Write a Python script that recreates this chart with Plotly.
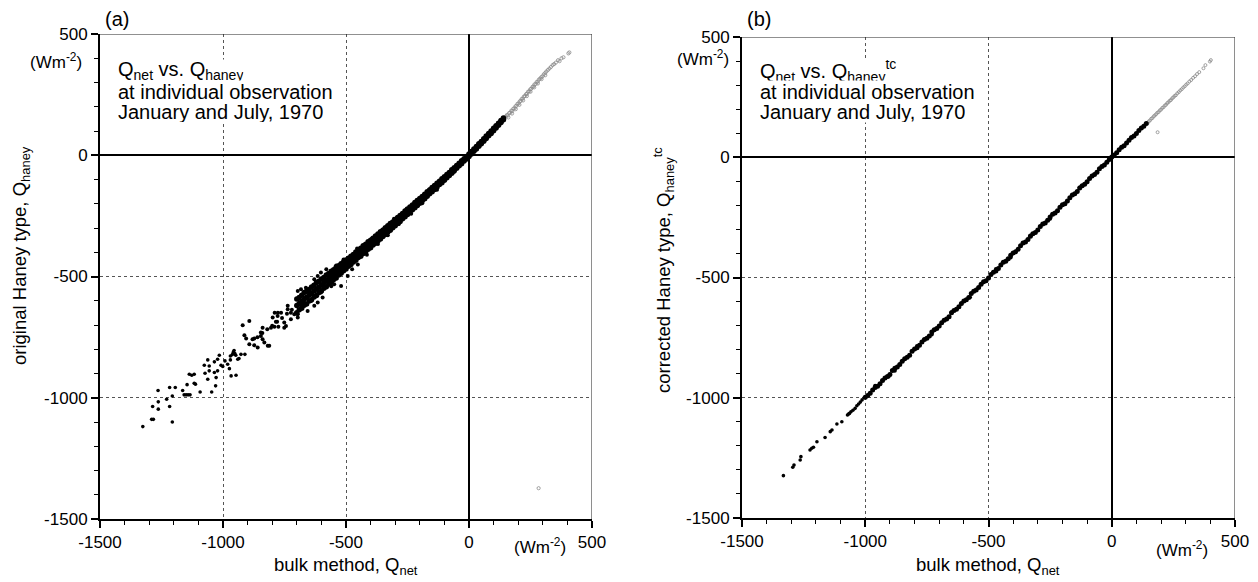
import plotly.graph_objects as go

W, H = 1258, 582
FONT = "Liberation Sans, Arial, Helvetica, sans-serif"

# ---------------- axis ticks (both panels share the scale) ----------------
tick_vals = [-1500, -1000, -500, 0, 500]
tick_text = ["-1500", "-1000", "-500", "0", "500"]

# ---------------- panel (a): Q_net vs. original Haney-type Q_haney ----------------
# dense core of the cloud: Q_net with the upper / central / lower edge of Q_haney
core_qnet_a = [
    -700, -690, -680, -670, -660, -650, -640, -630, -620, -610,
    -600, -590, -580, -570, -560, -550, -540, -530, -520, -510,
    -500, -490, -480, -470, -460, -450, -440, -430, -420, -410,
    -400, -390, -380, -370, -360, -350, -340, -330, -320, -310,
    -300, -290, -280, -270, -260, -250, -240, -230, -220, -210,
    -200, -190, -180, -170, -160, -150, -140, -130, -120, -110,
    -100, -90, -80, -70, -60, -50, -40, -30, -20, -10,
    0, 10, 20, 30, 40, 50, 60, 70, 80, 90,
    100, 110, 120, 130, 140,
]
core_mid_a = [
    -620, -611, -603, -594, -586, -577, -569, -560, -552, -543,
    -535, -526, -518, -509, -501, -492, -484, -475, -467, -458,
    -450, -441, -433, -424, -416, -407, -399, -390, -382, -373,
    -365, -356, -348, -339, -330, -322, -313, -304, -295, -287,
    -278, -269, -260, -251, -242, -233, -224, -215, -206, -197,
    -188, -179, -170, -160, -151, -142, -133, -123, -114, -105,
    -96, -86, -77, -67, -58, -48, -38, -29, -19, -10,
    0, 10, 21, 31, 42, 52, 63, 74, 85, 95,
    106, 117, 128, 139, 150,
]
core_hi_a = [
    -593, -587, -577, -566, -561, -554, -543, -536, -525, -520,
    -510, -504, -494, -488, -478, -472, -462, -456, -447, -440,
    -432, -425, -416, -409, -399, -391, -384, -373, -367, -357,
    -350, -342, -333, -325, -315, -309, -299, -291, -281, -275,
    -265, -257, -248, -240, -230, -222, -213, -205, -195, -187,
    -178, -170, -161, -151, -143, -133, -125, -115, -107, -97,
    -89, -79, -71, -60, -52, -42, -33, -23, -14, -5,
    5, 15, 26, 36, 47, 57, 68, 79, 90, 100,
    111, 122, 132, 143, 154,
]
core_lo_a = [
    -649, -637, -631, -619, -613, -601, -596, -585, -578, -566,
    -560, -548, -542, -530, -524, -512, -506, -494, -487, -476,
    -469, -458, -451, -440, -433, -422, -416, -405, -398, -388,
    -381, -370, -363, -353, -345, -335, -327, -317, -309, -299,
    -291, -281, -273, -262, -254, -244, -236, -225, -217, -207,
    -198, -188, -179, -169, -159, -151, -141, -131, -121, -113,
    -103, -93, -83, -74, -64, -54, -43, -35, -24, -15,
    -5, 5, 16, 26, 37, 47, 58, 69, 80, 90,
    101, 112, 124, 135, 146,
]

# scattered observations (Q_net, Q_haney) away from the core
spread_a = [
    (-860, -750), (-840, -733), (-820, -718), (-800, -703), (-780, -687), (-760, -671),
    (-740, -654), (-720, -637), (-920, -701), (-893, -683), (-913, -742), (-906, -756),
    (-893, -779), (-880, -759), (-873, -784), (-859, -793), (-846, -745), (-839, -759),
    (-832, -772), (-818, -786), (-812, -786), (-873, -756), (-846, -731), (-839, -711),
    (-805, -711), (-791, -707), (-775, -707), (-785, -687), (-778, -663), (-798, -669),
    (-764, -649), (-777, -649), (-790, -649), (-751, -690), (-744, -704), (-751, -711),
    (-737, -635), (-737, -621), (-724, -649), (-724, -676), (-710, -656), (-696, -669),
    (-696, -656), (-683, -621), (-670, -607), (-683, -553), (-663, -546), (-696, -560),
    (-656, -642), (-642, -601), (-629, -621), (-615, -607), (-595, -587), (-602, -566),
    (-629, -511), (-615, -498), (-602, -484), (-548, -532), (-520, -539), (-493, -498),
    (-466, -429), (-452, -450), (-580, -470), (-560, -540), (-540, -455), (-510, -430),
    (-475, -470), (-455, -385), (-430, -372), (-415, -410), (-395, -344), (-370, -366),
    (-350, -306), (-330, -330), (-305, -262), (-285, -283), (-255, -224), (-235, -241),
    (-210, -183), (-190, -198), (-160, -140), (-130, -142), (-90, -82), (-60, -68),
]
tail_a = [
    (-1326, -1119), (-1290, -1089), (-1283, -1089), (-1206, -1100), (-1286, -1036),
    (-1263, -1047), (-1263, -1017), (-1264, -970), (-1229, -1006), (-1217, -1036),
    (-1217, -958), (-1206, -993), (-1194, -958), (-1164, -970), (-1158, -988),
    (-1150, -988), (-1142, -988), (-1134, -988), (-1146, -946), (-1137, -903),
    (-1127, -907), (-1117, -940), (-1117, -903), (-1112, -944), (-1093, -976),
    (-1076, -866), (-1073, -899), (-1062, -844), (-1056, -869), (-1056, -889),
    (-1062, -924), (-1046, -976), (-1035, -852), (-1035, -896), (-1028, -917),
    (-1030, -951), (-1022, -889), (-1015, -825), (-1022, -841), (-1008, -866),
    (-1001, -871), (-992, -848), (-981, -862), (-970, -844), (-970, -828),
    (-967, -910), (-974, -880), (-947, -907), (-958, -812), (-952, -818),
    (-962, -822), (-955, -805), (-948, -825), (-940, -841), (-935, -838),
    (-927, -821), (-911, -821),
]
# positive-flux observations (drawn in grey)
positive_a = [
    (150, 160), (154, 166), (158, 164), (163, 174), (168, 176), (172, 184), (176, 182),
    (180, 192), (185, 194), (189, 202), (193, 204), (197, 212), (202, 214), (206, 222),
    (210, 224), (214, 232), (219, 234), (223, 242), (227, 244), (232, 252), (236, 254),
    (240, 262), (245, 264), (249, 272), (253, 274), (258, 282), (262, 284), (266, 292),
    (271, 294), (275, 302), (280, 304), (284, 312), (289, 316), (294, 322), (299, 326),
    (304, 334), (310, 340), (315, 346), (321, 352), (327, 358), (333, 364), (340, 372),
    (346, 376), (353, 382), (362, 392), (368, 388), (376, 400), (384, 404), (404, 420),
    (408, 424), (160, 156), (175, 172), (190, 190), (205, 208), (220, 226), (235, 244),
    (250, 262), (265, 280), (280, 296), (295, 314), (310, 330), (283, -1373),
]

# ---------------- panel (b): Q_net vs. corrected Haney-type Q_haney^tc ----------------
core_qnet_b = [
    -1000, -990, -980, -970, -960, -950, -940, -930, -920, -910,
    -900, -890, -880, -870, -860, -850, -840, -830, -820, -810,
    -800, -790, -780, -770, -760, -750, -740, -730, -720, -710,
    -700, -690, -680, -670, -660, -650, -640, -630, -620, -610,
    -600, -590, -580, -570, -560, -550, -540, -530, -520, -510,
    -500, -490, -480, -470, -460, -450, -440, -430, -420, -410,
    -400, -390, -380, -370, -360, -350, -340, -330, -320, -310,
    -300, -290, -280, -270, -260, -250, -240, -230, -220, -210,
    -200, -190, -180, -170, -160, -150, -140, -130, -120, -110,
    -100, -90, -80, -70, -60, -50, -40, -30, -20, -10,
    0, 10, 20, 30, 40, 50, 60, 70, 80, 90,
    100, 110, 120, 130, 140,
]
core_qtc_b = [
    -998, -991, -981, -968, -957, -952, -942, -928, -918, -912,
    -903, -887, -877, -872, -862, -848, -838, -832, -823, -807,
    -797, -792, -782, -768, -758, -753, -743, -727, -717, -712,
    -702, -688, -678, -673, -663, -647, -637, -632, -622, -608,
    -598, -593, -583, -567, -557, -552, -542, -528, -518, -513,
    -502, -488, -478, -473, -463, -448, -437, -432, -422, -408,
    -398, -393, -383, -368, -357, -352, -342, -328, -318, -313,
    -302, -288, -278, -273, -262, -248, -237, -232, -222, -208,
    -198, -193, -182, -168, -157, -152, -142, -128, -118, -112,
    -102, -88, -78, -72, -62, -48, -38, -32, -21, -9,
    1, 9, 19, 31, 42, 48, 59, 71, 82, 88,
    99, 111, 122, 129, 140,
]
spread_b = [
    (-960, -950), (-880, -888), (-790, -785), (-730, -737), (-650, -644), (-575, -582),
    (-470, -465), (-410, -417), (-330, -325), (-250, -256), (-130, -126), (-905, -912),
]
tail_b = [
    (-1332, -1324), (-1294, -1289), (-1289, -1280), (-1264, -1259), (-1261, -1245),
    (-1224, -1217), (-1217, -1210), (-1210, -1206), (-1196, -1183), (-1163, -1165),
    (-1142, -1141), (-1135, -1134), (-1115, -1109), (-1095, -1100), (-1072, -1072),
    (-1068, -1068), (-1064, -1065), (-1058, -1058), (-1050, -1052), (-1041, -1044),
    (-1034, -1033), (-1027, -1026), (-1020, -1018), (-1013, -1009), (-1004, -1000),
]
positive_b = [
    (145, 141), (150, 149), (155, 153), (160, 160), (165, 163), (170, 170), (175, 174),
    (180, 179), (185, 185), (190, 188), (195, 195), (200, 198), (205, 205), (210, 208),
    (215, 215), (220, 218), (225, 225), (230, 229), (235, 235), (240, 238), (245, 245),
    (250, 249), (255, 255), (260, 258), (266, 266), (272, 271), (278, 278), (284, 283),
    (290, 290), (296, 295), (302, 302), (308, 307), (315, 315), (322, 321), (330, 330),
    (338, 337), (346, 346), (355, 354), (372, 370), (380, 383), (398, 398), (402, 404),
    (186, 104),
]


def px(x):
    return x / W


def py(y):
    return 1 - y / H


def xs(pairs):
    return [p[0] for p in pairs]


def ys(pairs):
    return [p[1] for p in pairs]


fig = go.Figure()


def dots(x, y, xa, ya, size=4.5, color="black", symbol="circle"):
    fig.add_trace(go.Scatter(
        x=x, y=y, xaxis=xa, yaxis=ya, mode="markers", showlegend=False,
        hoverinfo="skip",
        marker=dict(size=size, color=color, symbol=symbol,
                    line=dict(width=0.8 if "open" in symbol else 0, color=color)),
    ))


# panel (a)
dots(xs(positive_a), ys(positive_a), "x", "y", size=3.2, color="#8a8a8a", symbol="circle-open")
for row in (core_hi_a, core_mid_a, core_lo_a):
    dots(core_qnet_a, row, "x", "y", size=5.5)
dots(xs(spread_a), ys(spread_a), "x", "y", size=4)
dots(xs(tail_a), ys(tail_a), "x", "y", size=3.6)

# panel (b)
dots(xs(positive_b), ys(positive_b), "x2", "y2", size=3, color="#8a8a8a", symbol="circle-open")
dots(core_qnet_b, core_qtc_b, "x2", "y2", size=5)
dots(xs(spread_b), ys(spread_b), "x2", "y2", size=4)
dots(xs(tail_b), ys(tail_b), "x2", "y2", size=3.6)


def axis_style(domain):
    return dict(
        domain=domain, range=[-1500, 500], autorange=False, automargin=False,
        tickmode="array", tickvals=tick_vals, ticktext=tick_text,
        ticks="outside", ticklen=7, tickwidth=1.5, tickcolor="black",
        tickfont=dict(family=FONT, size=17, color="black"),
        showline=True, linecolor="black", linewidth=2,
        showgrid=True, gridcolor="#555555", gridwidth=1, griddash="dot",
        zeroline=True, zerolinecolor="black", zerolinewidth=1.5,
        minor=dict(dtick=100, tick0=0, ticks="outside", ticklen=4,
                   tickwidth=1, tickcolor="black", showgrid=False),
        fixedrange=True,
    )


fig.update_layout(
    template="none",
    width=W, height=H, autosize=False,
    margin=dict(l=0, r=0, t=0, b=0, pad=0),
    paper_bgcolor="white", plot_bgcolor="white",
    font=dict(family=FONT, color="black"),
    xaxis=dict(axis_style([px(100), px(592)]), anchor="y"),
    yaxis=dict(axis_style([py(519), py(34)]), anchor="x"),
    xaxis2=dict(axis_style([px(742), px(1235)]), anchor="y2"),
    yaxis2=dict(axis_style([py(518), py(37)]), anchor="x2"),
)

# thin top / right frame
for xa, ya in (("x", "y"), ("x2", "y2")):
    fig.add_shape(type="line", xref=xa, yref=ya, x0=-1500, x1=500, y0=500, y1=500,
                  line=dict(color="#222222", width=1.2))
    fig.add_shape(type="line", xref=xa, yref=ya, x0=500, x1=500, y0=-1500, y1=500,
                  line=dict(color="#444444", width=1.2))


def note(text, x, y, size, xanchor="center", angle=0, bg=None, height=None):
    fig.add_annotation(text=text, x=x, y=y, xref="paper", yref="paper",
                       xanchor=xanchor, yanchor="middle", showarrow=False,
                       textangle=angle, bgcolor=bg, borderpad=0, height=height,
                       font=dict(family=FONT, size=size, color="black"))


UNIT = "(Wm<sup>-2</sup>)"
panels = [
    dict(ax=100, tag="(a)", qh="Q<sub>haney</sub>",
         ytitle="original Haney type, Q<sub>haney</sub>", ytc=256, xunit=(540, 546), yunit=(56, 61)),
    dict(ax=742, tag="(b)", qh="Q<sub>haney</sub><sup>tc</sup>",
         ytitle="corrected Haney type, Q<sub>haney</sub><sup>tc</sup>", ytc=270, xunit=(1182, 549), yunit=(703, 58)),
]
for p in panels:
    a = p["ax"]
    note(p["tag"], px(a + 17), py(19), 20)
    note(UNIT, px(p["yunit"][0]), py(p["yunit"][1]), 17)
    note(UNIT, px(p["xunit"][0]), py(p["xunit"][1]), 17)
    note("bulk method, Q<sub>net</sub>", px(a + 246), py(566), 18.5)
    note(p["ytitle"], px(a - 79), py(p["ytc"]), 18.5, angle=-90)
    note("Q<sub>net</sub> vs. " + p["qh"], px(a + 17), py(70), 20, xanchor="left", bg="white", height=21)
    note("at individual observation", px(a + 17), py(91), 20, xanchor="left", bg="white", height=21)
    note("January and July, 1970", px(a + 17), py(112), 20, xanchor="left", bg="white", height=21)

fig.write_html("out.html")
